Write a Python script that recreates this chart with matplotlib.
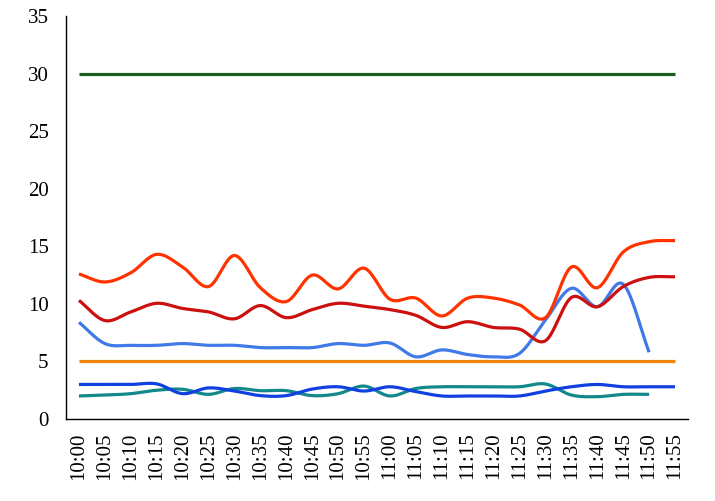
import numpy as np
import matplotlib
matplotlib.use("Agg")
import matplotlib.pyplot as plt

times = ["10:00", "10:05", "10:10", "10:15", "10:20", "10:25", "10:30", "10:35",
         "10:40", "10:45", "10:50", "10:55", "11:00", "11:05", "11:10", "11:15",
         "11:20", "11:25", "11:30", "11:35", "11:40", "11:45", "11:50", "11:55"]

upper_limit = [30] * 24
lower_limit = [5] * 24
series_red = [12.6, 11.9, 12.7, 14.3, 13.2, 11.5, 14.2, 11.4, 10.2, 12.5, 11.3, 13.1,
              10.4, 10.5, 8.95, 10.5, 10.5, 9.9, 8.8, 13.2, 11.4, 14.5, 15.4, 15.5]
series_darkred = [10.3, 8.55, 9.3, 10.05, 9.6, 9.3, 8.7, 9.85, 8.8, 9.5, 10.05, 9.8,
                  9.5, 9.0, 7.95, 8.45, 7.95, 7.8, 6.8, 10.55, 9.75, 11.5, 12.3, 12.35]
series_lightblue = [8.4, 6.55, 6.4, 6.4, 6.55, 6.4, 6.4, 6.2, 6.2, 6.2, 6.55, 6.4,
                    6.6, 5.4, 6.0, 5.6, 5.4, 5.7, 8.6, 11.35, 9.75, 11.7, 5.8]
series_blue = [3.0, 3.0, 3.0, 3.05, 2.2, 2.7, 2.43, 2.03, 2.03, 2.6, 2.8, 2.43,
               2.8, 2.38, 2.0, 2.0, 2.0, 2.0, 2.43, 2.8, 3.0, 2.8, 2.8, 2.8]
series_teal = [2.0, 2.08, 2.2, 2.5, 2.58, 2.14, 2.65, 2.46, 2.46, 2.03, 2.2, 2.86,
               2.0, 2.65, 2.8, 2.8, 2.8, 2.8, 3.04, 2.08, 1.94, 2.14, 2.14]


def smooth(y, n=20):
    y = np.asarray(y, dtype=float)
    x = np.arange(len(y), dtype=float)
    if len(y) < 3:
        return x, y
    p = np.concatenate([[2 * y[0] - y[1]], y, [2 * y[-1] - y[-2]]])
    xs, ys = [], []
    for i in range(len(y) - 1):
        p0, p1, p2, p3 = p[i], p[i + 1], p[i + 2], p[i + 3]
        t = np.linspace(0, 1, n, endpoint=False)
        yy = 0.5 * ((2 * p1) + (-p0 + p2) * t + (2 * p0 - 5 * p1 + 4 * p2 - p3) * t ** 2
                    + (-p0 + 3 * p1 - 3 * p2 + p3) * t ** 3)
        xs.append(x[i] + t)
        ys.append(yy)
    xs.append([x[-1]])
    ys.append([y[-1]])
    return np.concatenate(xs), np.concatenate(ys)


fig = plt.figure(figsize=(7.15, 5.01), dpi=100)
ax = fig.add_axes([66 / 715, 82 / 501, 622 / 715, 403 / 501])

lw = 2.3
styles = [
    (upper_limit, "#1b5e20"),
    (lower_limit, "#f0860c"),
    (series_lightblue, "#3f7ae8"),
    (series_darkred, "#cc1010"),
    (series_red, "#ff3300"),
    (series_teal, "#12888c"),
    (series_blue, "#1040e0"),
]
for data, col in styles:
    xs, ys = smooth(data)
    ax.plot(xs, ys, color=col, lw=lw, solid_capstyle="butt")

ax.set_xlim(-0.5, 23.5)
ax.set_ylim(0, 35)
ax.set_yticks(np.arange(0, 36, 5))
ax.set_xticks(np.arange(len(times)))
ax.set_xticklabels(times, rotation=90)
for s in ["top", "right"]:
    ax.spines[s].set_visible(False)
for s in ["left", "bottom"]:
    ax.spines[s].set_linewidth(1.0)
    ax.spines[s].set_color("black")
ax.tick_params(axis="y", length=0, pad=12.5)
ax.tick_params(axis="x", length=0, pad=9.5)
for lab in ax.get_xticklabels() + ax.get_yticklabels():
    lab.set_fontfamily("Liberation Serif")
    lab.set_fontsize(15)

fig.savefig("out.png", dpi=100)
